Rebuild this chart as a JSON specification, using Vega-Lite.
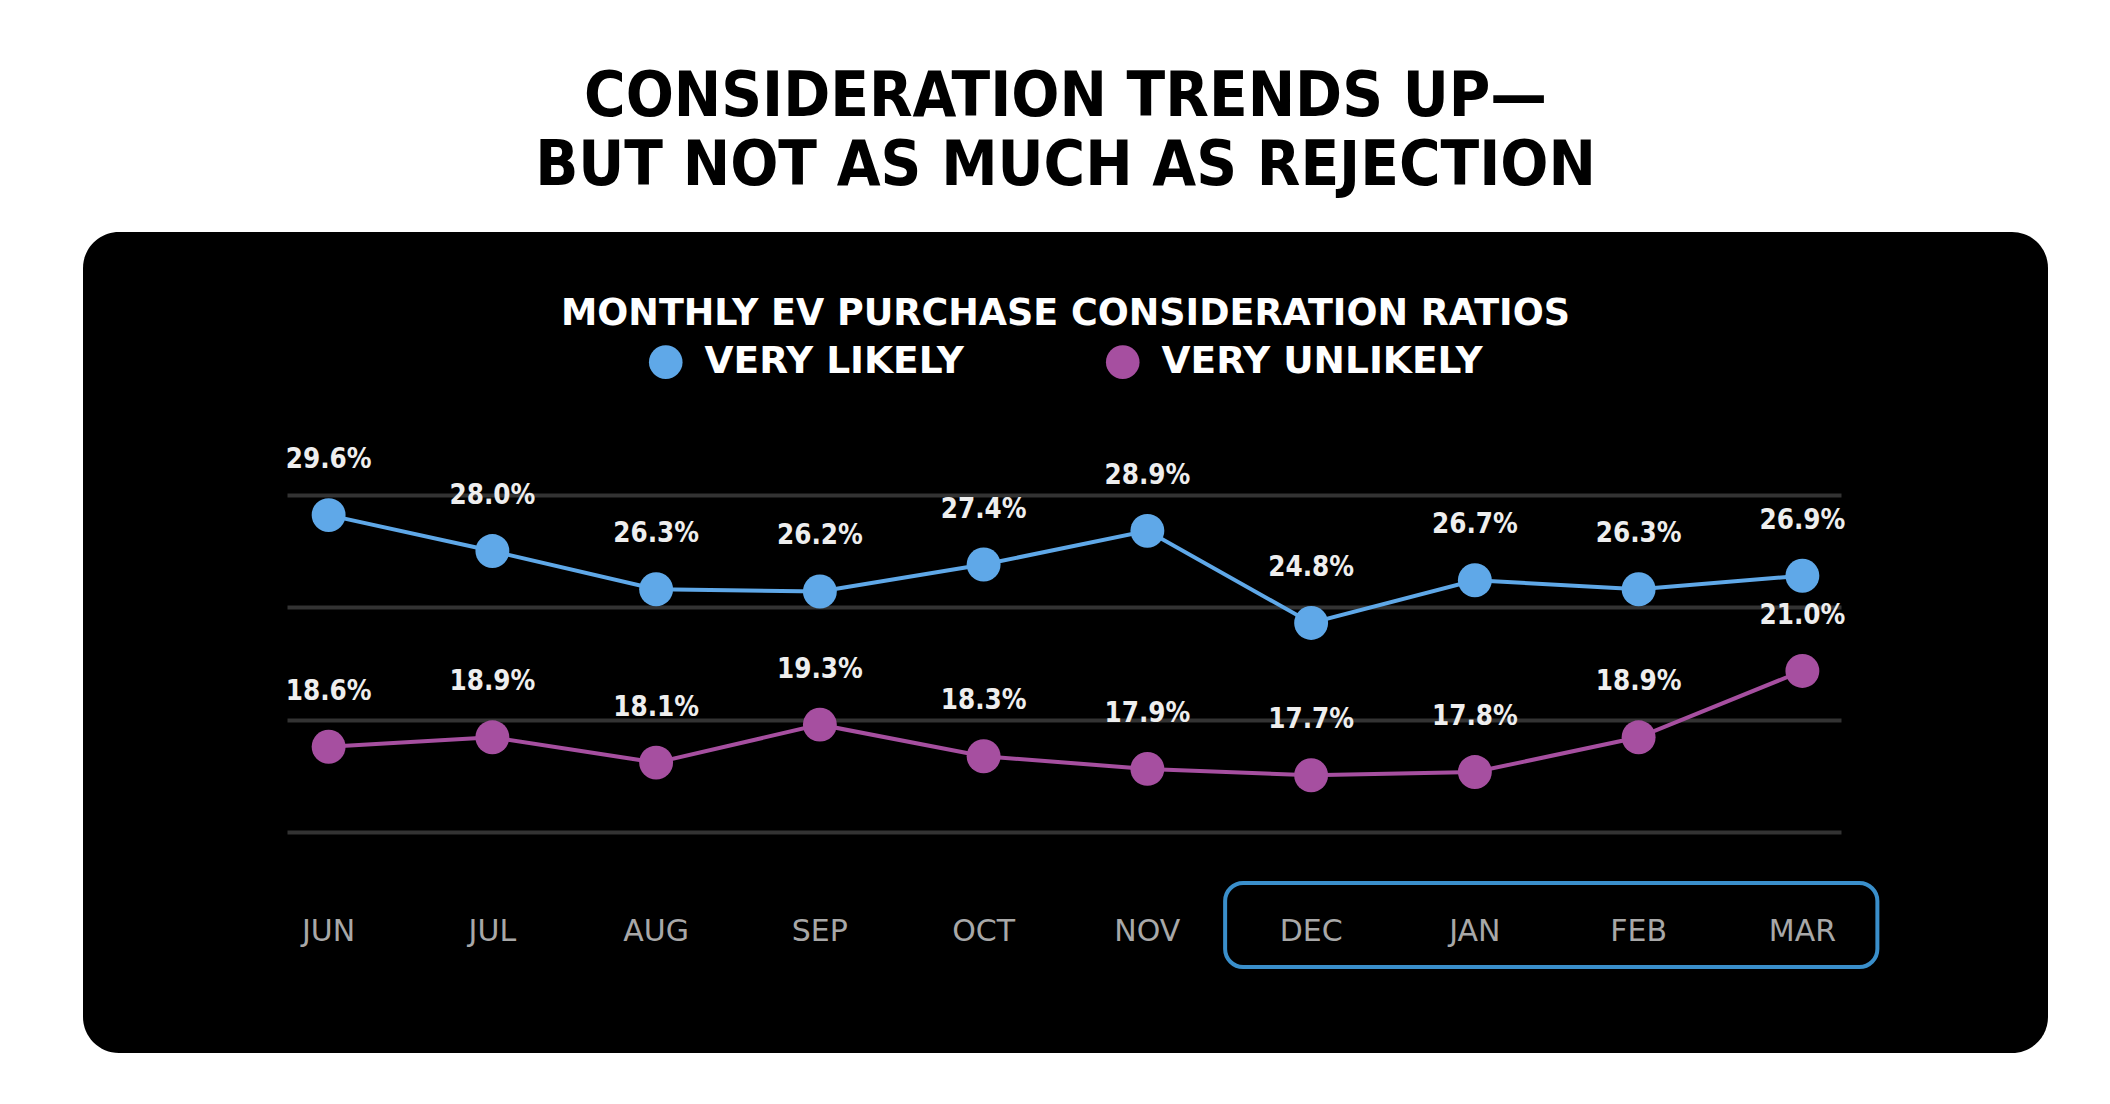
{
  "$schema": "https://vega.github.io/schema/vega-lite/v6.json",
  "width": 1965,
  "height": 821,
  "padding": {"left": 83, "top": 65, "right": 0, "bottom": 0},
  "background": "#ffffff",
  "title": {
    "text": ["CONSIDERATION TRENDS UP—", "BUT NOT AS MUCH AS REJECTION"],
    "subtitle": "MONTHLY EV PURCHASE CONSIDERATION RATIOS",
    "anchor": "middle",
    "font": "DejaVu Sans Condensed",
    "fontWeight": "bold",
    "fontSize": 63,
    "lineHeight": 69,
    "color": "#000000",
    "subtitleFont": "DejaVu Sans",
    "subtitleFontWeight": "bold",
    "subtitleFontSize": 36.5,
    "subtitleColor": "#ffffff",
    "subtitlePadding": 98,
    "offset": -100
  },
  "data": {
    "values": [
      {"month": "JUN", "series": "VERY LIKELY", "pct": 0.296},
      {"month": "JUL", "series": "VERY LIKELY", "pct": 0.280},
      {"month": "AUG", "series": "VERY LIKELY", "pct": 0.263},
      {"month": "SEP", "series": "VERY LIKELY", "pct": 0.262},
      {"month": "OCT", "series": "VERY LIKELY", "pct": 0.274},
      {"month": "NOV", "series": "VERY LIKELY", "pct": 0.289},
      {"month": "DEC", "series": "VERY LIKELY", "pct": 0.248},
      {"month": "JAN", "series": "VERY LIKELY", "pct": 0.267},
      {"month": "FEB", "series": "VERY LIKELY", "pct": 0.263},
      {"month": "MAR", "series": "VERY LIKELY", "pct": 0.269},
      {"month": "JUN", "series": "VERY UNLIKELY", "pct": 0.186},
      {"month": "JUL", "series": "VERY UNLIKELY", "pct": 0.189},
      {"month": "AUG", "series": "VERY UNLIKELY", "pct": 0.181},
      {"month": "SEP", "series": "VERY UNLIKELY", "pct": 0.193},
      {"month": "OCT", "series": "VERY UNLIKELY", "pct": 0.183},
      {"month": "NOV", "series": "VERY UNLIKELY", "pct": 0.179},
      {"month": "DEC", "series": "VERY UNLIKELY", "pct": 0.177},
      {"month": "JAN", "series": "VERY UNLIKELY", "pct": 0.178},
      {"month": "FEB", "series": "VERY UNLIKELY", "pct": 0.189},
      {"month": "MAR", "series": "VERY UNLIKELY", "pct": 0.210}
    ]
  },
  "encoding": {
    "x": {
      "field": "month",
      "type": "ordinal",
      "scale": {"type": "band", "domain": ["JUN", "JUL", "AUG", "SEP", "OCT", "NOV", "DEC", "JAN", "FEB", "MAR"], "paddingInner": 0, "paddingOuter": 1},
      "axis": {
        "orient": "bottom",
        "offset": -121.5,
        "labelBaseline": "middle",
        "labelPadding": 0,
        "ticks": false,
        "tickSize": 0,
        "domain": false,
        "grid": false,
        "title": null,
        "labelAngle": 0,
        "labelFont": "DejaVu Sans",
        "labelFontSize": 30,
        "labelColor": "#a8a8a8"
      }
    }
  },
  "layer": [
    {
      "data": {"values": [{"from": "DEC", "to": "MAR"}]},
      "mark": {"type": "rect", "fillOpacity": 0, "stroke": "#3a8fcb", "strokeWidth": 4, "cornerRadius": 18, "xOffset": -86, "x2Offset": 75, "yOffset": 651, "y2Offset": 735},
      "encoding": {
        "x": {"field": "from", "type": "ordinal"},
        "x2": {"field": "to"},
        "y": {"value": 0},
        "y2": {"value": 0}
      }
    },
    {
      "transform": [{"filter": "datum.series === 'VERY LIKELY'"}],
      "encoding": {
        "y": {
          "field": "pct",
          "type": "quantitative",
          "scale": {"domain": [0.0566, 0.422], "nice": false, "zero": false},
          "axis": {
            "values": [0.155, 0.205, 0.255, 0.305],
            "grid": true,
            "labels": false,
            "ticks": false,
            "domain": false,
            "title": null,
            "gridColor": "#333333",
            "gridWidth": 4,
            "gridDash": [0, 204, 1554, 500]
          }
        }
      },
      "layer": [
        {"mark": {"type": "line", "strokeWidth": 4, "color": "#5fa8e8"}},
        {
          "mark": {"type": "point", "filled": true, "size": 1150, "opacity": 1},
          "encoding": {
            "color": {
              "field": "series",
              "type": "nominal",
              "scale": {"domain": ["VERY LIKELY", "VERY UNLIKELY"], "range": ["#5fa8e8", "#a64fa0"]},
              "legend": {
                "orient": "none",
                "legendX": 564,
                "legendY": 111,
                "direction": "horizontal",
                "title": null,
                "symbolType": "circle",
                "symbolSize": 1130,
                "symbolStrokeWidth": 0,
                "symbolOpacity": 1,
                "labelFont": "DejaVu Sans",
                "labelFontWeight": "bold",
                "labelFontSize": 37.5,
                "labelColor": "#ffffff",
                "labelOffset": 20,
                "labelLimit": 0,
                "columnPadding": 140,
                "padding": 0
              }
            }
          }
        },
        {
          "mark": {"type": "text", "dy": -55, "font": "DejaVu Sans Condensed", "fontWeight": "bold", "fontSize": 27.5, "fill": "#eeeeee"},
          "encoding": {"text": {"field": "pct", "type": "quantitative", "format": ".1%"}}
        }
      ]
    },
    {
      "transform": [{"filter": "datum.series === 'VERY UNLIKELY'"}],
      "encoding": {
        "y": {
          "field": "pct",
          "type": "quantitative",
          "scale": {"domain": [0.0891, 0.3489], "nice": false, "zero": false},
          "axis": null
        }
      },
      "layer": [
        {"mark": {"type": "line", "strokeWidth": 4, "color": "#a64fa0"}},
        {
          "mark": {"type": "point", "filled": true, "size": 1150, "opacity": 1},
          "encoding": {
            "color": {
              "field": "series",
              "type": "nominal",
              "scale": {"domain": ["VERY LIKELY", "VERY UNLIKELY"], "range": ["#5fa8e8", "#a64fa0"]},
              "legend": {
                "orient": "none",
                "legendX": 564,
                "legendY": 111,
                "direction": "horizontal",
                "title": null,
                "symbolType": "circle",
                "symbolSize": 1130,
                "symbolStrokeWidth": 0,
                "symbolOpacity": 1,
                "labelFont": "DejaVu Sans",
                "labelFontWeight": "bold",
                "labelFontSize": 37.5,
                "labelColor": "#ffffff",
                "labelOffset": 20,
                "labelLimit": 0,
                "columnPadding": 140,
                "padding": 0
              }
            }
          }
        },
        {
          "mark": {"type": "text", "dy": -55, "font": "DejaVu Sans Condensed", "fontWeight": "bold", "fontSize": 27.5, "fill": "#eeeeee"},
          "encoding": {"text": {"field": "pct", "type": "quantitative", "format": ".1%"}}
        }
      ]
    }
  ],
  "resolve": {"scale": {"y": "independent"}},
  "config": {
    "view": {"fill": "#000000", "stroke": null, "cornerRadius": 36}
  }
}
